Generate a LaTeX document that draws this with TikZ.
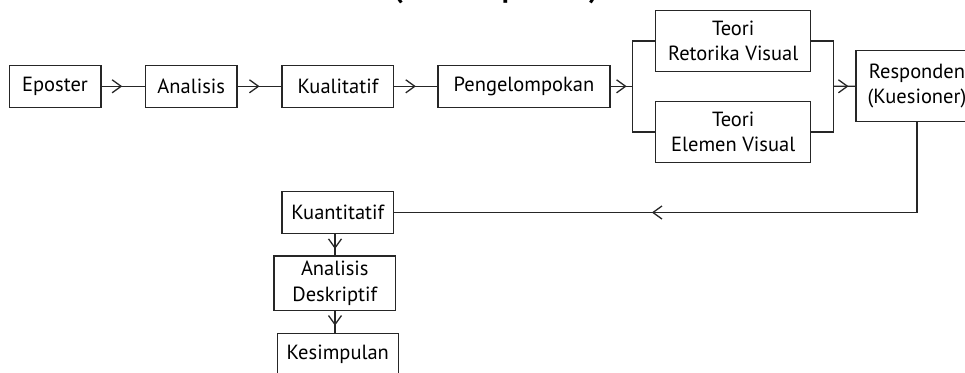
\documentclass[tikz,border=0pt]{standalone}
\usepackage{fontspec}
\setmainfont{PT Sans}
\usetikzlibrary{arrows.meta,decorations.markings}
\begin{document}
\begin{tikzpicture}[x=1pt,y=-1pt,
  box/.style={draw=black!85, line width=1.3pt, inner sep=0pt, align=center,
    font=\fontsize{20.5}{25.5}\selectfont},
  conn/.style={draw=black!85, line width=1.3pt},
  midarrow/.style={postaction={decorate}, decoration={markings,
    mark=at position #1 with {\arrow{Straight Barb[length=9pt,width=13pt,line width=1.3pt]}}}}]
\clip (0,0) rectangle (965,372);
\useasboundingbox (0,0) rectangle (965,372);

\node[font=\bfseries\fontsize{29}{32}\selectfont, anchor=base, inner sep=0pt] (title) at (496,-2) {(sumber pribadi)};

\node[box, minimum width=91.7pt, minimum height=42pt] (ep) at (55,86.3) {Eposter};
\node[box, minimum width=91.7pt, minimum height=42pt] (an) at (191.2,86.3) {Analisis};
\node[box, minimum width=111.7pt, minimum height=42pt] (ku) at (337.9,86.3) {Kualitatif};
\node[box, minimum width=172pt, minimum height=42pt] (pe) at (524,86.3) {Pengelompokan};
\node[box, minimum width=155pt, minimum height=60.6pt] (tr) at (733.2,41) {Teori\\Retorika Visual};
\node[box, minimum width=155pt, minimum height=60.6pt] (te) at (733.2,132) {Teori\\Elemen Visual};
\node[box, minimum width=122pt, minimum height=71.4pt] (re) at (917,86) {Responden\\(Kuesioner)};
\node[box, minimum width=111.3pt, minimum height=41.6pt] (kn) at (337.7,212.5) {Kuantitatif};
\node[box, minimum width=121.7pt, minimum height=54.7pt] (ad) at (334.8,283.3) {Analisis\\Deskriptif};
\node[box, minimum width=121pt, minimum height=42pt] (ks) at (337.8,354.3) {Kesimpulan};

\coordinate (fl) at (632.3,86.3);
\coordinate (fr) at (833.3,86.3);
\coordinate (corner) at (re.south |- kn.east);
\coordinate (v1a) at (335,233.3);
\coordinate (v1b) at (335,256);
\coordinate (v2a) at (335,310.7);
\coordinate (v2b) at (335,333.3);

\draw[conn, midarrow=0.48] (ep) -- (an);
\draw[conn, midarrow=0.5] (an) -- (ku);
\draw[conn, midarrow=0.5] (ku) -- (pe);
\draw[conn, midarrow=0.74] (pe) -- (fl);
\draw[conn] (tr.west) -- (tr.west -| fl) -- (te.west -| fl) -- (te.west);
\draw[conn] (tr.east) -- (tr.east -| fr) -- (te.east -| fr) -- (te.east);
\draw[conn, midarrow=0.69] (fr) -- (re);
\draw[conn] (re.south) -- (corner);
\draw[conn, midarrow=0.507] (corner) -- (kn.east);
\draw[conn, midarrow=0.69] (v1a) -- (v1b);
\draw[conn, midarrow=0.66] (v2a) -- (v2b);
\end{tikzpicture}
\end{document}
